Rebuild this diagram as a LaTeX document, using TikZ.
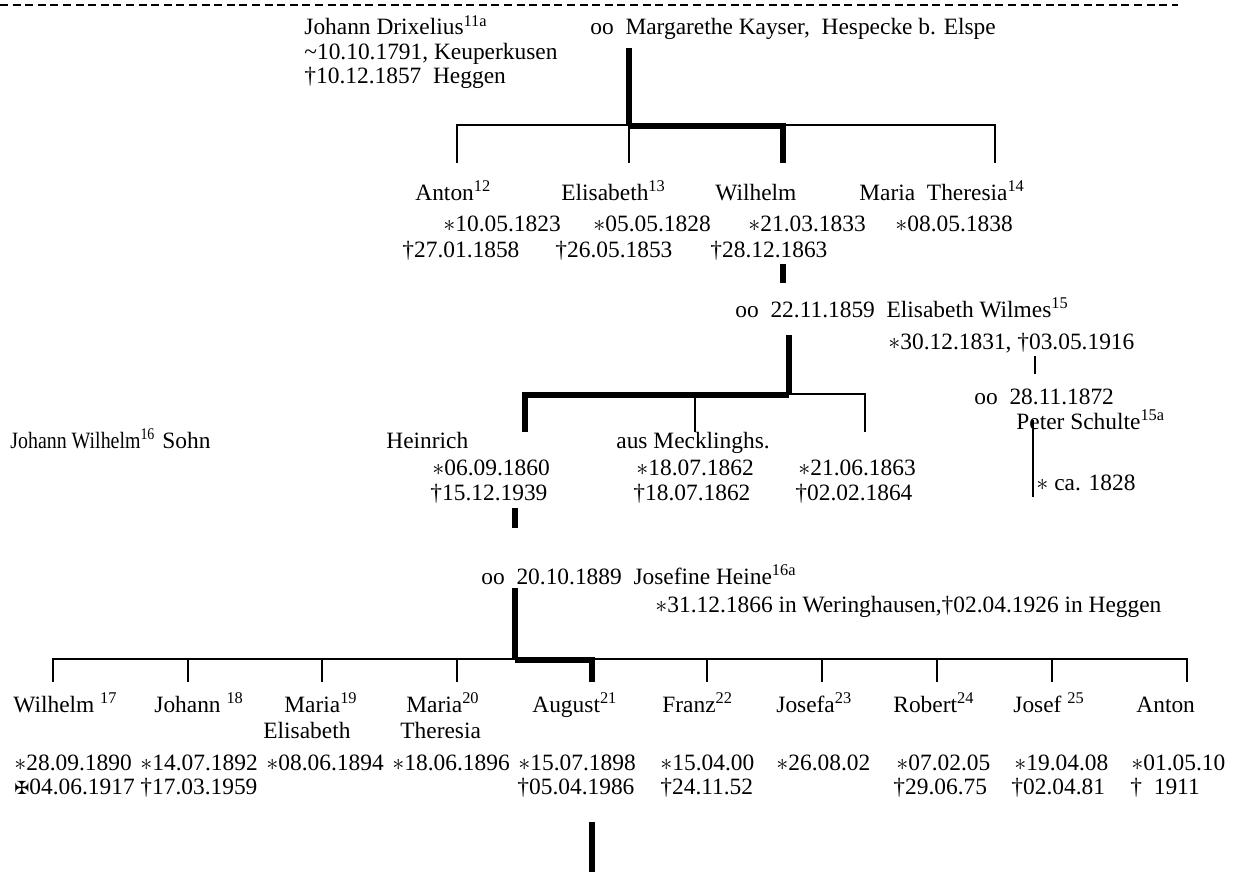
\documentclass[tikz,border=0pt]{standalone}
\usepackage{fontspec}
\setmainfont{Liberation Serif}
\newfontfamily\crossfont{DejaVu Sans}
\newcommand{\born}{$\ast$}
\newcommand{\fnote}[1]{\textsuperscript{#1}}
\newcommand{\narrow}[1]{\scalebox{0.85}[1]{#1}}

\begin{document}
\begin{tikzpicture}[x=0.5pt,y=-0.5pt,
  every node/.style={inner sep=0pt,anchor=base west,font=\fontsize{11.7}{14}\selectfont},
  thinline/.style={line width=1.3pt},
  thickline/.style={line width=2.6pt}]
\useasboundingbox (0,0) rectangle (1238,872);
\draw[line width=0.6pt,dash pattern=on 4pt off 2.3pt] (0,5) -- (1178,5);
% Johann Drixelius oo Margarethe Kayser
\begin{scope}
\node (johann) at (304,35) {Johann Drixelius\fnote{11a}};
\node (johannbap) at (304,60) {\textasciitilde10.10.1791, Keuperkusen};
\node (johanndied) at (304,84) {†10.12.1857\ \ Heggen};
\node (margarethe) at (590,35) {oo\ \ Margarethe Kayser,\ \ Hespecke b. Elspe};
\draw[thickline] (629,48) -- (629,125);
\draw[thinline] (457,163) -- (457,125) -- (995,125) -- (995,163);
\draw[thinline] (629,125) -- (629,163);
\draw[thickline] (629,126) -- (783,126) -- (783,163);
\node (anton) at (415,200) {Anton\fnote{12}};
\node (elisabeth) at (561,200) {Elisabeth\fnote{13}};
\node (wilhelm) at (715,200) {Wilhelm};
\node (mariath) at (859,200) {Maria\ \ Theresia\fnote{14}};
\node (antonb) at (443,232) {\born10.05.1823};
\node (elisabethb) at (593,232) {\born05.05.1828};
\node (wilhelmb) at (748,232) {\born21.03.1833};
\node (mariathb) at (895,232) {\born08.05.1838};
\node (antond) at (402,257) {†27.01.1858};
\node (elisabethd) at (555,257) {†26.05.1853};
\node (wilhelmd) at (710,257) {†28.12.1863};
\end{scope}
% Wilhelm oo Elisabeth Wilmes
\begin{scope}
\draw[thickline] (783,264) -- (783,283);
\node (wilmes) at (735,317) {oo\ \ 22.11.1859\ \ Elisabeth Wilmes\fnote{15}};
\node (wilmesdates) at (888,349) {\born30.12.1831, †03.05.1916};
\draw[thinline] (1035,356) -- (1035,374);
\node (schultemar) at (974,404) {oo\ \ 28.11.1872};
\node (schulte) at (1016,429) {Peter Schulte\fnote{15a}};
\draw[thinline] (1033,420) -- (1033,497);
\node (schulteb) at (1036,490) {\born\ ca. 1828};
\draw[thickline] (789,335) -- (789,393);
\draw[thinline] (789,394) -- (865,394) -- (865,432);
\draw[thinline] (695,394) -- (695,432);
\draw[thickline] (525,432) -- (525,395) -- (789,395);
\node (johannw) at (10,448) {\narrow{Johann Wilhelm\fnote{16}}};
\node (sohn) at (162,448) {Sohn};
\node (heinrich) at (386,448) {Heinrich};
\node (mecklinghs) at (616,448) {aus Mecklinghs.};
\node (heinrichb) at (432,475) {\born06.09.1860};
\node (mecklinghsb) at (636,475) {\born18.07.1862};
\node (thirdb) at (798,475) {\born21.06.1863};
\node (heinrichd) at (430,500) {†15.12.1939};
\node (mecklinghsd) at (633,500) {†18.07.1862};
\node (thirdd) at (795,500) {†02.02.1864};
\end{scope}
% Heinrich oo Josefine Heine
\begin{scope}
\draw[thickline] (515,508) -- (515,528);
\node (heine) at (481,584) {oo\ \ 20.10.1889\ \ Josefine Heine\fnote{16a}};
\node (heinedates) at (655,612) {\born31.12.1866 in Weringhausen,†02.04.1926 in Heggen};
\draw[thickline] (515,588) -- (515,660);
\draw[thinline] (53,682) -- (53,659) -- (1187,659) -- (1187,682);
\foreach \x in {188,322,457,707,822,937,1052}
  \draw[thinline] (\x,659) -- (\x,682);
\draw[thickline] (515,660) -- (592,660) -- (592,682);
\node (wilhelm2) at (13,712) {Wilhelm \fnote{17}};
\node (johann2) at (154,712) {Johann \fnote{18}};
\node (mariael) at (284,712) {Maria\fnote{19}};
\node (mariath2) at (406,712) {Maria\fnote{20}};
\node (august) at (532,712) {August\fnote{21}};
\node (franz) at (662,712) {Franz\fnote{22}};
\node (josefa) at (776,712) {Josefa\fnote{23}};
\node (robert) at (893,712) {Robert\fnote{24}};
\node (josef) at (1013,712) {Josef \fnote{25}};
\node (anton2) at (1136,712) {Anton};
\node (mariael2) at (263,738) {Elisabeth};
\node (mariath3) at (400,738) {Theresia};
\node (wilhelm2b) at (14,770) {\born28.09.1890};
\node (johann2b) at (140,770) {\born14.07.1892};
\node (mariaelb) at (266,770) {\born08.06.1894};
\node (mariathb2) at (392,770) {\born18.06.1896};
\node (augustb) at (518,770) {\born15.07.1898};
\node (franzb) at (660,770) {\born15.04.00};
\node (josefab) at (776,770) {\born26.08.02};
\node (robertb) at (896,770) {\born07.02.05};
\node (josefb) at (1014,770) {\born19.04.08};
\node (anton2b) at (1131,770) {\born01.05.10};
\node (wilhelm2d) at (14,794) {{\crossfont\fontsize{9}{10}\selectfont ✠}04.06.1917};
\node (johann2d) at (140,794) {†17.03.1959};
\node (augustd) at (517,794) {†05.04.1986};
\node (franzd) at (660,794) {†24.11.52};
\node (robertd) at (893,794) {†29.06.75};
\node (josefd) at (1011,794) {†02.04.81};
\node (anton2d) at (1130,794) {†\ \ 1911};
\draw[thickline] (592,822) -- (592,872);
\end{scope}
\end{tikzpicture}
\end{document}
